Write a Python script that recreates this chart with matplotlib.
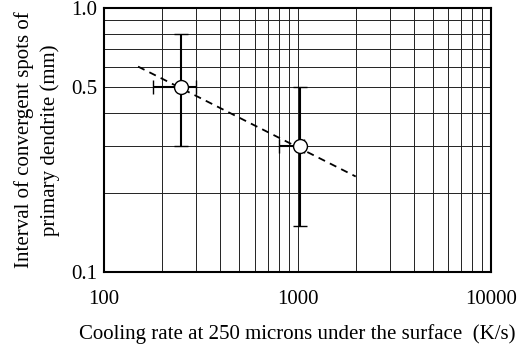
import matplotlib
matplotlib.use("Agg")
import matplotlib.pyplot as plt
from matplotlib.ticker import LogLocator, NullFormatter

# measured points (cooling rate K/s, interval mm)
rate = [250, 1030]
spacing = [0.5, 0.3]
rate_lo = [180, 800]
rate_hi = [300, 1080]
spacing_lo = [0.3, 0.15]
spacing_hi = [0.8, 0.5]

# dashed trend line end points
fit_rate = [150, 2000]
fit_spacing = [0.6, 0.23]

xticks = [100, 1000, 10000]
xtick_labels = ["100", "1000", "10000"]
yticks = [0.1, 0.5, 1.0]
ytick_labels = ["0.1", "0.5", "1.0"]

plt.rcParams["font.family"] = ["Liberation Serif", "DejaVu Serif"]

fig = plt.figure(figsize=(5.17, 3.45), dpi=100)
ax = fig.add_axes([104 / 517, 1 - 272 / 345, 387 / 517, 264 / 345])

ax.set_xscale("log")
ax.set_yscale("log")
ax.set_xlim(100, 10000)
ax.set_ylim(0.1, 1.0)

ax.xaxis.set_minor_locator(LogLocator(base=10, subs=range(2, 10)))
ax.yaxis.set_minor_locator(LogLocator(base=10, subs=range(2, 10)))
ax.xaxis.set_minor_formatter(NullFormatter())
ax.yaxis.set_minor_formatter(NullFormatter())
ax.grid(True, which="both", color="#222222", linewidth=0.7)

ax.set_xticks(xticks)
ax.set_xticklabels(xtick_labels)
ax.set_yticks(yticks)
ax.set_yticklabels(ytick_labels)
ax.tick_params(which="both", length=0, labelsize=15)
ax.tick_params(axis="x", pad=13)
ax.tick_params(axis="y", pad=5)

for s in ax.spines.values():
    s.set_linewidth(1.5)

ax.plot(fit_rate, fit_spacing, color="black", linestyle=(0, (4, 3)), linewidth=1.3, zorder=3)

xerr = [[r - lo for r, lo in zip(rate, rate_lo)], [hi - r for r, hi in zip(rate, rate_hi)]]
yerr = [[s - lo for s, lo in zip(spacing, spacing_lo)], [hi - s for s, hi in zip(spacing, spacing_hi)]]
ax.errorbar(rate, spacing, xerr=xerr, yerr=yerr, fmt="o", color="black", ecolor="black",
            elinewidth=1.5, capsize=5, capthick=1.5, markersize=10,
            markerfacecolor="white", markeredgecolor="black", markeredgewidth=1.0, zorder=4)

ax.set_xlabel("Cooling rate at 250 microns under the surface  (K/s)", fontsize=15, labelpad=11)
ax.set_ylabel("Interval of convergent spots of\nprimary dendrite (mm)", fontsize=15, labelpad=8,
              linespacing=1.4)

fig.savefig("out.png", dpi=100)
